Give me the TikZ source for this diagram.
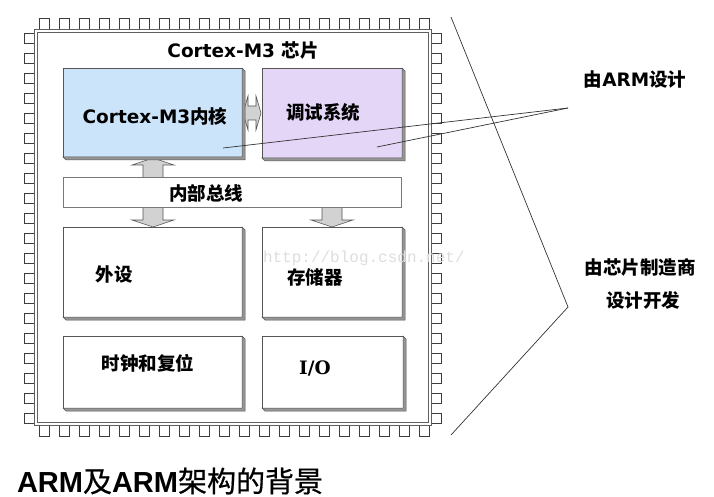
\documentclass[tikz,border=0pt]{standalone}
\usepackage{fontspec}
\setmainfont{DejaVu Sans}
\newfontfamily\cjk{Noto Sans CJK SC}
\newfontfamily\cjkmed{Noto Sans CJK SC}[FakeBold=0.6]
\newfontfamily\serb{DejaVu Serif}
\newfontfamily\arial{Liberation Sans}
\newfontfamily\wmfont{Liberation Mono}
\definecolor{coreblue}{RGB}{204,228,250}
\definecolor{dbgpurple}{RGB}{228,214,246}
\definecolor{bevelc}{RGB}{150,150,150}
\definecolor{boxline}{RGB}{85,85,85}
\definecolor{chipline}{RGB}{95,95,95}
\definecolor{pinline}{RGB}{60,60,60}
\definecolor{arrowfill}{RGB}{210,210,210}
\definecolor{wmgray}{RGB}{222,222,222}
\newcommand\lbl{\fontsize{18.5}{22}\selectfont\bfseries}
\newcommand\bevel[1]{%
  \filldraw[fill=bevelc, draw=boxline, line width=0.5pt]
    (#1.north east) -- ([shift={(3,3)}]#1.north east) -- ([shift={(3,3)}]#1.south east)
    -- ([shift={(3,3)}]#1.south west) -- (#1.south west) -- (#1.south east) -- cycle;}
\begin{document}
\begin{tikzpicture}[x=1pt,y=-1pt,
  pin/.style={draw=pinline, fill=white, line width=0.7pt},
  chipframe/.style={draw=chipline, line width=0.8pt, fill=white, inner sep=0, outer sep=0, anchor=north west},
  boxnode/.style={draw=boxline, line width=0.8pt, inner sep=0, outer sep=0, anchor=north west, fill=white},
  busnode/.style={draw=bevelc!80!black, line width=0.8pt, inner sep=0, outer sep=0, anchor=north west, fill=white},
  blockarrow/.style={draw=boxline, fill=arrowfill, line width=0.6pt, line join=miter},
  ptr/.style={draw=black!80, line width=0.7pt},
  txt/.style={inner sep=0, outer sep=0, font=\lbl}
]
\useasboundingbox (0,0) rectangle (714,497);

% pins
\foreach \i in {0,...,19} {
  \draw[pin] ({39+20*\i},18) rectangle ++(10,11);
  \draw[pin] ({39+20*\i},425) rectangle ++(10,11);
  \draw[pin] (24,{33+20*\i}) rectangle ++(10,10);
  \draw[pin] (431,{33+20*\i}) rectangle ++(10,10);
}

% chip frame
\node[chipframe, minimum width=397pt, minimum height=396pt] (chip) at (34,29) {};
\draw[draw=chipline, line width=0.8pt] ([xshift=3pt,yshift=-3pt]chip.north west) rectangle ([xshift=-3pt,yshift=3pt]chip.south east);

% block arrows (under the boxes)
\draw[blockarrow] (143,177) -- (143,165) -- (132,165) -- (153,158) -- (174,165) -- (163,165) -- (163,177);
\draw[blockarrow] (143,207) -- (143,220) -- (132,220) -- (153,227) -- (174,220) -- (163,220) -- (163,207);
\draw[blockarrow] (322,207) -- (322,220) -- (311,220) -- (332,227) -- (353,220) -- (342,220) -- (342,207);
\draw[blockarrow] (243,113) -- (248,96) -- (248,106) -- (256,106) -- (256,96) -- (261,113) -- (256,130) -- (256,120) -- (248,120) -- (248,130) -- cycle;

% boxes
\node[boxnode, fill=coreblue, minimum width=179pt, minimum height=89pt] (core) at (63,68) {};
\bevel{core}
\node[boxnode, fill=dbgpurple, minimum width=140pt, minimum height=90pt] (dbg) at (262,68) {};
\bevel{dbg}
\node[busnode, minimum width=338pt, minimum height=30pt] (bus) at (63,177) {};
\node[boxnode, minimum width=179pt, minimum height=90pt] (periph) at (63,227) {};
\bevel{periph}
\node[boxnode, minimum width=140pt, minimum height=90pt] (mem) at (262,227) {};
\bevel{mem}
\node[boxnode, minimum width=179pt, minimum height=72pt] (clk) at (63,336) {};
\bevel{clk}
\node[boxnode, minimum width=141pt, minimum height=72pt] (io) at (262,336) {};
\bevel{io}

% texts
\node[txt] (chiptitle) at (243,51) {Cortex-M3 {\cjk 芯片}};
\node[txt] (coretxt) at (155,116) {Cortex-M3{\cjk 内核}};
\node[txt] (dbgtxt) at (323,112) {\cjk 调试系统};
\node[txt] (bustxt) at (206,193) {\cjk 内部总线};
\node[txt] (periphtxt) at (114,274) {\cjk 外设};
\node[txt] (memtxt) at (315,277) {\cjk 存储器};
\node[txt] (clktxt) at (148,363) {\cjk 时钟和复位};
\node[txt] (iotxt) at (315,368) {\serb I/O};
\node[txt, text=wmgray, font=\wmfont\fontsize{16}{18}\selectfont, anchor=west] (wm) at (263,258) {http://blog.csdn.net/};

\node[txt] (armtxt) at (635,80) {{\cjk 由}ARM{\cjk 设计}};
\node[txt] (mfr1) at (640,267) {\cjk 由芯片制造商};
\node[txt] (mfr2) at (643,300) {\cjk 设计开发};

\node[inner sep=0, outer sep=0, anchor=west, font=\fontsize{29}{33}\selectfont] (title) at (17,481)
  {{\arial\bfseries ARM}{\cjkmed 及}{\arial\bfseries ARM}{\cjkmed 架构的背景}};

% pointer lines
\coordinate (armpt) at (568,108);
\coordinate (coreend) at (223,148);
\coordinate (dbgend) at (377,147);
\draw[ptr] (armpt) -- (coreend);
\draw[ptr] (armpt) -- (dbgend);

% bracket
\coordinate (brtop) at (451,17);
\coordinate (brmid) at (568,307);
\coordinate (brbot) at (451,435);
\draw[ptr] (brtop) -- (brmid) -- (brbot);
\end{tikzpicture}
\end{document}
